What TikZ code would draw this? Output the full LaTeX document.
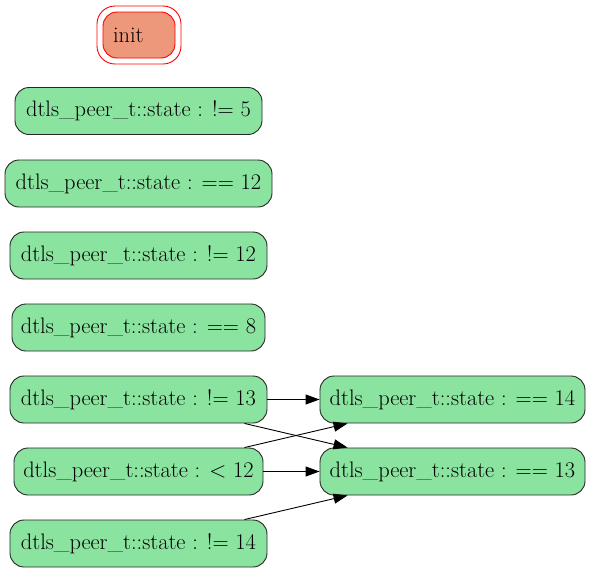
\documentclass[tikz,border=0pt]{standalone}
\usetikzlibrary{arrows.meta,calc}
\definecolor{stgreen}{RGB}{138,228,160}
\definecolor{initfill}{RGB}{237,152,122}
\begin{document}
\begin{tikzpicture}[x=1pt,y=-1pt,
  statebox/.style={draw=black!85, fill=stgreen, rounded corners=14pt, line width=0.9pt,
    minimum height=47pt, inner xsep=4pt, font=\fontsize{22.4}{26}\selectfont},
  initbox/.style={draw=red, fill=initfill, rounded corners=14pt, line width=0.9pt,
    minimum width=72pt, minimum height=46pt, inner sep=0pt, font=\fontsize{22.4}{26}\selectfont},
  initouter/.style={draw=red, rounded corners=18pt, line width=0.9pt,
    minimum width=84pt, minimum height=58pt, inner sep=0pt},
  edge/.style={draw=black, line width=0.9pt, -{Triangle[length=14pt,width=10pt]}}]
\useasboundingbox (0,0) rectangle (592,573);
\node[initouter] (initout) at (139,35) {};
\node[initbox] (init) at (139,35) {\makebox[52pt][l]{init}};
\node[statebox, minimum width=247pt] (n1) at (138.5,111) {dtls\_peer\_t::state : != 5};
\node[statebox, minimum width=267pt] (n2) at (138.5,183.5) {dtls\_peer\_t::state : == 12};
\node[statebox, minimum width=257pt] (n3) at (138.5,255.5) {dtls\_peer\_t::state : != 12};
\node[statebox, minimum width=253pt] (n4) at (138.5,327.5) {dtls\_peer\_t::state : == 8};
\node[statebox, minimum width=257pt] (n5) at (138.5,399.5) {dtls\_peer\_t::state : != 13};
\node[statebox, minimum width=249pt] (n6) at (138.5,471.5) {dtls\_peer\_t::state : < 12};
\node[statebox, minimum width=257pt] (n7) at (138.5,543.5) {dtls\_peer\_t::state : != 14};
\node[statebox, minimum width=265pt] (r1) at (452.5,399.5) {dtls\_peer\_t::state : == 14};
\node[statebox, minimum width=265pt] (r2) at (452.5,471.5) {dtls\_peer\_t::state : == 13};
\draw[edge] (n5.east) -- (r1.west);
\draw[edge] (n6.east) -- (r2.west);
\draw[edge] ($(n5.south)+(106,0)$) -- ($(r2.north west)+(28,0)$);
\draw[edge] ($(n6.north)+(106,0)$) -- ($(r1.south west)+(28,0)$);
\draw[edge] ($(n7.north)+(106,0)$) -- ($(r2.south west)+(28,0)$);
\end{tikzpicture}
\end{document}
